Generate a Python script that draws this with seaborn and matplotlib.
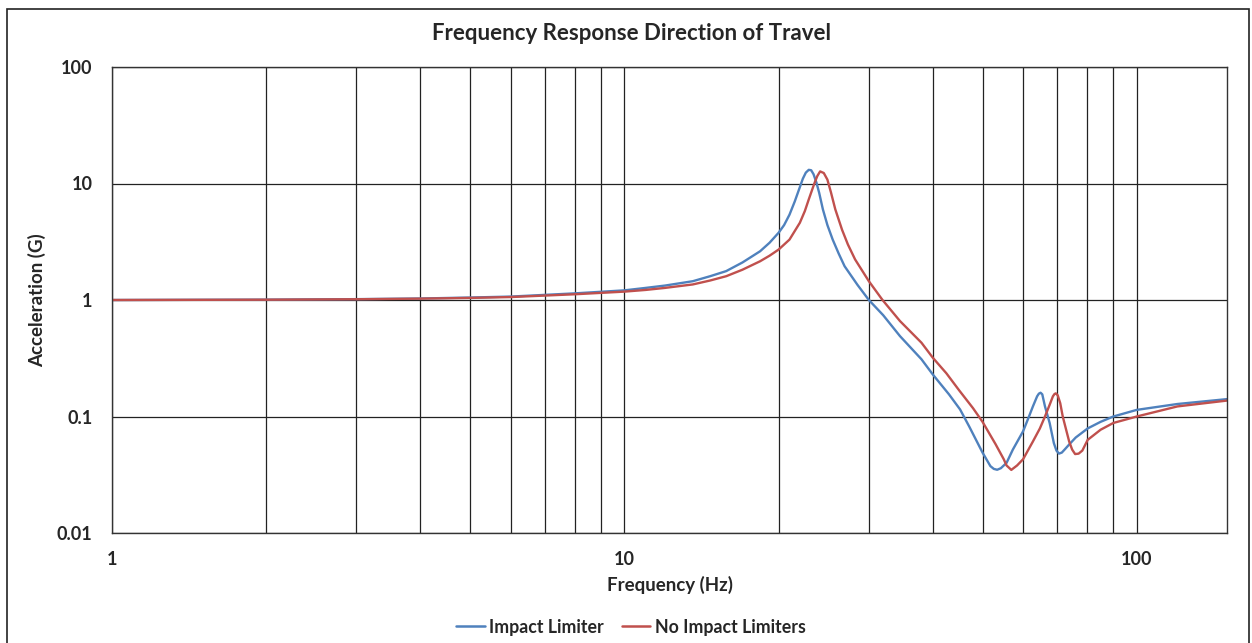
import numpy as np
import pandas as pd
import matplotlib
matplotlib.use("Agg")
import matplotlib.pyplot as plt
from matplotlib.patches import Rectangle
from matplotlib.ticker import FixedLocator, NullFormatter, FixedFormatter
import seaborn as sns

# ---- data ----
freq_limiter = [1, 2, 3, 4, 5, 6, 8, 10, 11, 12, 13.6, 14.7, 15.8, 17, 18.4, 19.2, 20,
                20.5, 21, 21.5, 22, 22.3, 22.6, 22.9, 23.15, 23.4, 23.7, 24.0, 24.4,
                24.9, 25.5, 26.2, 26.9, 28.5, 30, 32, 34.5, 38, 40, 43, 45.2, 47.1,
                50, 51.8, 52.6, 53.4, 54.3, 55.7, 57.3, 60, 61.5, 62.7, 63.9, 64.4,
                64.9, 65.4, 66.2, 67.6, 68.9, 69.7, 70.5, 71.4, 72.3, 73.8, 76, 80.2,
                85, 90, 100, 120, 150]
acc_limiter = [1.0, 1.007, 1.017, 1.03, 1.05, 1.07, 1.14, 1.21, 1.27, 1.33, 1.45, 1.6,
               1.77, 2.1, 2.62, 3.1, 3.78, 4.4, 5.4, 7.0, 9.3, 11.0, 12.4, 13.1, 13.0,
               12.0, 10.2, 8.3, 6.0, 4.4, 3.3, 2.5, 1.95, 1.35, 1.0, 0.74, 0.49, 0.31,
               0.229, 0.155, 0.115, 0.082, 0.049, 0.0375, 0.0355, 0.0349, 0.036,
               0.040, 0.052, 0.0747, 0.098, 0.122, 0.149, 0.157, 0.16, 0.155, 0.122,
               0.088, 0.059, 0.051, 0.048, 0.049, 0.052, 0.0575, 0.066, 0.079, 0.09,
               0.1, 0.114, 0.128, 0.141]

freq_nolimiter = [1, 2, 3, 4, 5, 6, 8, 10, 11, 12, 13.6, 14.7, 15.8, 17, 18.4, 19.2, 20,
                  21, 22, 22.5, 22.9, 23.2, 23.5, 23.8, 24.1, 24.5, 24.9, 25.3, 25.8,
                  26.6, 27.3, 28.2, 30, 31.9, 34.5, 38, 40, 42.5, 45, 47.9, 50, 53, 55,
                  55.7, 56.9, 58.4, 60, 62.7, 64.7, 66.2, 67.6, 68.6, 69.1, 69.5,
                  70.1, 70.9, 71.7, 72.8, 73.8, 74.8, 75.8, 77, 78.3, 80.2, 85, 90, 100,
                  120, 150]
acc_nolimiter = [1.0, 1.006, 1.015, 1.027, 1.042, 1.06, 1.12, 1.18, 1.22, 1.27, 1.36,
                 1.47, 1.6, 1.82, 2.15, 2.4, 2.71, 3.3, 4.6, 5.8, 7.3, 8.6, 10.1, 11.6,
                 12.7, 12.3, 10.8, 8.4, 6.0, 4.0, 3.0, 2.23, 1.45, 1.0, 0.66, 0.43,
                 0.319, 0.235, 0.168, 0.118, 0.09, 0.058, 0.043, 0.038, 0.0348, 0.038,
                 0.043, 0.061, 0.079, 0.1, 0.126, 0.149, 0.156, 0.158, 0.152, 0.13,
                 0.1, 0.077, 0.061, 0.052, 0.0476, 0.048, 0.051, 0.063, 0.077, 0.088,
                 0.1, 0.122, 0.137]

series_names = ["Impact Limiter", "No Impact Limiters"]
series_colors = ["#4F81BD", "#C0504D"]
y_ticks = [0.01, 0.1, 1, 10, 100]
y_tick_labels = ["0.01", "0.1", "1", "10", "100"]
x_ticks = [1, 10, 100]
x_tick_labels = ["1", "10", "100"]

df = pd.concat([
    pd.DataFrame({"Frequency": freq_limiter, "Acceleration": acc_limiter,
                  "Series": series_names[0]}),
    pd.DataFrame({"Frequency": freq_nolimiter, "Acceleration": acc_nolimiter,
                  "Series": series_names[1]}),
], ignore_index=True)

sns.set_style("white")
plt.rcParams["font.family"] = ["Lato", "DejaVu Sans"]

fig = plt.figure(figsize=(12.52, 6.43), dpi=100)
ax = fig.add_axes([112 / 1252, 1 - 533 / 643, (1227 - 112) / 1252, (533 - 67) / 643])

sns.lineplot(data=df, x="Frequency", y="Acceleration", hue="Series",
             hue_order=series_names, palette=series_colors, estimator=None,
             linewidth=1.7, ax=ax, legend=True)
for ln in ax.get_lines():
    ln.set_solid_joinstyle("round")
    ln.set_solid_capstyle("round")

ax.set_xscale("log")
ax.set_yscale("log")
ax.set_xlim(1, 150)
ax.set_ylim(0.01, 100)

minor_x = [m * d for d in (1, 10) for m in range(2, 10)]
ax.xaxis.set_major_locator(FixedLocator(x_ticks))
ax.xaxis.set_major_formatter(FixedFormatter(x_tick_labels))
ax.xaxis.set_minor_locator(FixedLocator(minor_x))
ax.xaxis.set_minor_formatter(NullFormatter())
ax.yaxis.set_major_locator(FixedLocator(y_ticks))
ax.yaxis.set_major_formatter(FixedFormatter(y_tick_labels))
ax.yaxis.set_minor_locator(FixedLocator([]))

ax.grid(True, which="major", axis="both", color="#222222", linewidth=0.9)
ax.grid(True, which="minor", axis="x", color="#222222", linewidth=0.9)
ax.set_axisbelow(True)
for s in ax.spines.values():
    s.set_visible(True)
    s.set_color("#333333")
    s.set_linewidth(1.0)

ax.tick_params(axis="x", which="both", length=0, pad=13)
ax.tick_params(axis="y", which="both", length=0, pad=14)
for lbl in ax.get_xticklabels() + ax.get_yticklabels():
    lbl.set_fontweight("bold")
    lbl.set_fontsize(13)

ax.set_xlabel("Frequency (Hz)", fontsize=13.5, fontweight="bold")
ax.set_ylabel("Acceleration (G)", fontsize=13.5, fontweight="bold")
ax.xaxis.set_label_coords(0.5, (533 - 585) / 466, transform=ax.transAxes)
ax.xaxis.label.set_va("center")
ax.yaxis.set_label_coords((37 - 112) / 1115, 0.5, transform=ax.transAxes)
ax.yaxis.label.set_va("center")
fig.text(631 / 1252, 1 - 33 / 643, "Frequency Response Direction of Travel",
         ha="center", va="center", fontsize=16, fontweight="bold")

handles, labels = ax.get_legend_handles_labels()
ax.legend_.remove()
leg = fig.legend(handles, labels, loc="center", bbox_to_anchor=(631 / 1252, 1 - 627 / 643),
                 ncol=2, frameon=False, handlelength=1.6, handletextpad=0.25,
                 columnspacing=1.0, prop={"weight": "bold", "size": 12.8})
for h in leg.get_lines():
    h.set_linewidth(1.8)

fig.add_artist(Rectangle((7 / 1252, -0.01), (1249 - 7) / 1252, 1 - 9 / 643 + 0.01,
                         transform=fig.transFigure, fill=False, edgecolor="#222222",
                         linewidth=1.2))

fig.savefig("out.png", dpi=100)
